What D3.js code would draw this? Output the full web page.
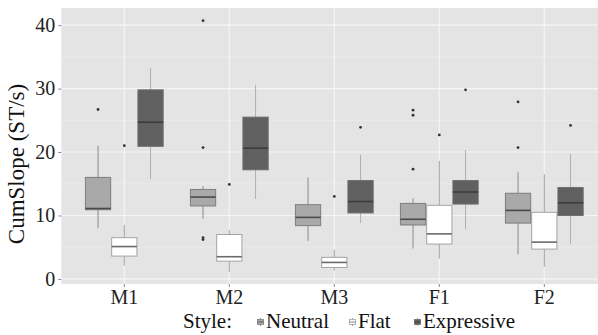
<!DOCTYPE html>
<html>
<head>
<meta charset="utf-8">
<script src="https://cdn.jsdelivr.net/npm/d3@7"></script>
<style>
  body { margin: 0; background: #fff; }
  svg text { font-family: "Times New Roman", "Liberation Serif", Times, serif; }
</style>
</head>
<body>
<div id="chart"></div>
<script>
(function() {
  // speakers and styles
  var categories = ["M1", "M2", "M3", "F1", "F2"];
  var styles = ["Neutral", "Flat", "Expressive"];
  var yTicks = [0, 10, 20, 30, 40];

  // [whisker low, q1, median, q3, whisker high] per speaker
  var neutralStats = [
    [8.0, 10.9, 11.1, 16.0, 21.0],
    [9.5, 11.5, 12.9, 14.1, 14.6],
    [6.0, 8.4, 9.7, 11.7, 16.0],
    [4.8, 8.5, 9.4, 11.9, 12.7],
    [3.9, 8.8, 10.8, 13.5, 16.8]
  ];
  var flatStats = [
    [2.1, 3.6, 5.1, 6.5, 8.5],
    [1.1, 2.8, 3.5, 7.0, 7.7],
    [1.3, 1.8, 2.6, 3.4, 4.6],
    [3.2, 5.5, 7.1, 11.6, 18.6],
    [1.9, 4.7, 5.8, 10.5, 16.5]
  ];
  var expressiveStats = [
    [15.8, 20.9, 24.7, 29.8, 33.3],
    [12.6, 17.2, 20.6, 25.5, 30.6],
    [8.8, 10.4, 12.2, 15.5, 19.6],
    [7.8, 11.8, 13.7, 15.5, 20.3],
    [5.5, 10.0, 12.0, 14.4, 19.7]
  ];

  // outliers per speaker
  var neutralOutliers = [[26.7], [40.7, 20.7, 6.5, 6.2], [], [26.6, 25.8, 17.3], [27.9, 20.7]];
  var flatOutliers = [[21.0], [14.9], [13.0], [22.7], []];
  var expressiveOutliers = [[], [], [23.9], [29.8], [24.2]];

  var statsByStyle = { Neutral: neutralStats, Flat: flatStats, Expressive: expressiveStats };
  var outliersByStyle = { Neutral: neutralOutliers, Flat: flatOutliers, Expressive: expressiveOutliers };

  var look = {
    Neutral: { fill: "#a9a9a9", stroke: "#7e7e7e", median: "#4a4a4a", whisker: "#8a8a8a" },
    Flat: { fill: "#ffffff", stroke: "#a4a4a4", median: "#6a6a6a", whisker: "#a0a0a0" },
    Expressive: { fill: "#606060", stroke: "#6e6e6e", median: "#3c3c3c", whisker: "#b0b0b0" }
  };

  var serif = "'Times New Roman', 'Liberation Serif', Times, serif";
  var width = 598;
  var height = 335;
  var panel = { left: 61.3, right: 607.3, top: 8, bottom: 284 };

  var svg = d3.select("#chart")
    .append("svg")
    .attr("width", width)
    .attr("height", height);

  var x = d3.scaleBand()
    .domain(categories)
    .range([panel.left, panel.right])
    .paddingInner(0)
    .paddingOuter(0.1);

  var step = x.step();
  var xStyle = d3.scaleBand()
    .domain(styles)
    .range([-0.375 * step, 0.375 * step]);

  var y = d3.scaleLinear()
    .domain([-0.8, 42.7])
    .range([panel.bottom, panel.top]);

  // panel background
  svg.append("rect")
    .attr("x", panel.left)
    .attr("y", panel.top)
    .attr("width", panel.right - panel.left)
    .attr("height", panel.bottom - panel.top)
    .attr("fill", "#e4e4e5");

  // minor grid
  var minor = [5, 15, 25, 35];
  svg.append("g").selectAll("line")
    .data(minor)
    .enter()
    .append("line")
    .attr("x1", panel.left).attr("x2", panel.right)
    .attr("y1", function(d) { return y(d); })
    .attr("y2", function(d) { return y(d); })
    .attr("stroke", "#efeff0")
    .attr("stroke-width", 0.6);

  // major grid
  svg.append("g").selectAll("line")
    .data(yTicks)
    .enter()
    .append("line")
    .attr("x1", panel.left).attr("x2", panel.right)
    .attr("y1", function(d) { return y(d); })
    .attr("y2", function(d) { return y(d); })
    .attr("stroke", "#f6f6f6")
    .attr("stroke-width", 1.1);

  svg.append("g").selectAll("line")
    .data(categories)
    .enter()
    .append("line")
    .attr("y1", panel.top).attr("y2", panel.bottom)
    .attr("x1", function(d) { return x(d) + step / 2; })
    .attr("x2", function(d) { return x(d) + step / 2; })
    .attr("stroke", "#f6f6f6")
    .attr("stroke-width", 1.1);

  // boxes
  styles.forEach(function(s) {
    var st = look[s];
    var g = svg.append("g").attr("class", "style-" + s);
    var boxes = g.selectAll("g")
      .data(statsByStyle[s])
      .enter()
      .append("g")
      .attr("transform", function(d, i) {
        return "translate(" + (x(categories[i]) + step / 2 + xStyle(s)) + ",0)";
      });
    var bw = xStyle.bandwidth();

    boxes.append("line")
      .attr("x1", bw / 2).attr("x2", bw / 2)
      .attr("y1", function(d) { return y(d[4]); })
      .attr("y2", function(d) { return y(d[3]); })
      .attr("stroke", st.whisker).attr("stroke-width", 1);
    boxes.append("line")
      .attr("x1", bw / 2).attr("x2", bw / 2)
      .attr("y1", function(d) { return y(d[1]); })
      .attr("y2", function(d) { return y(d[0]); })
      .attr("stroke", st.whisker).attr("stroke-width", 1);
    boxes.append("rect")
      .attr("x", 0.5)
      .attr("width", bw - 1)
      .attr("y", function(d) { return y(d[3]); })
      .attr("height", function(d) { return y(d[1]) - y(d[3]); })
      .attr("fill", st.fill)
      .attr("stroke", st.stroke)
      .attr("stroke-width", 1);
    boxes.append("line")
      .attr("x1", 0.5).attr("x2", bw - 0.5)
      .attr("y1", function(d) { return y(d[2]); })
      .attr("y2", function(d) { return y(d[2]); })
      .attr("stroke", st.median).attr("stroke-width", 1.6);

    // outliers
    outliersByStyle[s].forEach(function(list, i) {
      g.selectAll(null)
        .data(list)
        .enter()
        .append("circle")
        .attr("cx", x(categories[i]) + step / 2 + xStyle(s) + bw / 2)
        .attr("cy", function(d) { return y(d); })
        .attr("r", 1.4)
        .attr("fill", "#333");
    });
  });

  // y axis
  var yAxis = svg.append("g")
    .attr("transform", "translate(" + panel.left + ",0)")
    .call(d3.axisLeft(y).tickValues(yTicks).tickSize(3).tickPadding(3));
  yAxis.attr("font-family", serif);
  yAxis.select(".domain").remove();
  yAxis.selectAll(".tick line").attr("stroke", "#888");
  yAxis.selectAll(".tick text")
    .attr("font-size", 20)
    .attr("fill", "#222");

  // x axis
  var xAxis = svg.append("g")
    .attr("transform", "translate(0," + panel.bottom + ")")
    .call(d3.axisBottom(x).tickSize(3).tickPadding(3));
  xAxis.attr("font-family", serif);
  xAxis.select(".domain").remove();
  xAxis.selectAll(".tick line").attr("stroke", "#888");
  xAxis.selectAll(".tick text")
    .attr("font-size", 20)
    .attr("fill", "#222");

  // y title
  svg.append("text")
    .attr("transform", "translate(24,164) rotate(-90)")
    .attr("text-anchor", "middle")
    .attr("font-family", serif)
    .attr("font-size", 23)
    .attr("fill", "#111")
    .text("CumSlope (ST/s)");

  // legend
  var legend = svg.append("g")
    .attr("transform", "translate(0,328)")
    .attr("font-family", serif);
  legend.append("text")
    .attr("x", 183)
    .attr("font-size", 21)
    .attr("fill", "#111")
    .text("Style:");

  var keyX = [257, 349, 414];
  styles.forEach(function(s, i) {
    var st = look[s];
    var k = legend.append("g").attr("transform", "translate(" + keyX[i] + ",-10)");
    k.append("line")
      .attr("x1", 3.5).attr("x2", 3.5).attr("y1", 0).attr("y2", 8)
      .attr("stroke", st.whisker);
    k.append("rect")
      .attr("x", 0.5).attr("y", 1.5).attr("width", 6).attr("height", 5)
      .attr("fill", st.fill).attr("stroke", st.stroke).attr("stroke-width", 0.8);
    k.append("line")
      .attr("x1", 0.5).attr("x2", 6.5).attr("y1", 4).attr("y2", 4)
      .attr("stroke", st.median).attr("stroke-width", 0.8);
    legend.append("text")
      .attr("x", keyX[i] + 9)
      .attr("font-size", 21)
      .attr("fill", "#111")
      .text(s);
  });
})();
</script>
</body>
</html>
